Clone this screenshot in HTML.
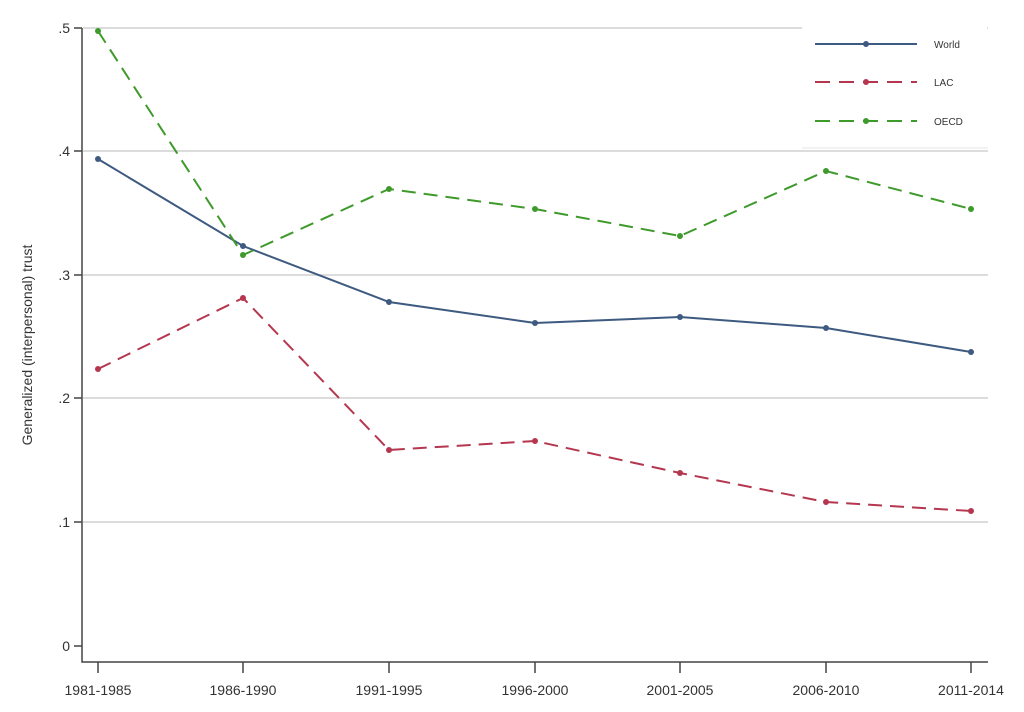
<!DOCTYPE html>
<html><head><style>body{margin:0;background:#fff}svg{display:block}text{font-family:"Liberation Sans",sans-serif;fill:#333}</style></head><body>
<svg width="1024" height="712" viewBox="0 0 1024 712">
<g stroke="#dcdcdc" stroke-width="2">
<line x1="83" y1="28" x2="988" y2="28"/><line x1="83" y1="151" x2="988" y2="151"/>
<line x1="83" y1="275" x2="988" y2="275"/><line x1="83" y1="398" x2="988" y2="398"/>
<line x1="83" y1="522" x2="988" y2="522"/>
</g>
<rect x="802" y="8" width="185" height="140" fill="#fff"/>
<line x1="802" y1="148" x2="988" y2="148" stroke="#e4e4e4" stroke-width="1"/>
<g stroke="#444" stroke-width="1.5" fill="none">
<polyline points="82,28 82,662 988,662"/>
<line x1="74" y1="28" x2="82" y2="28"/><line x1="74" y1="151" x2="82" y2="151"/><line x1="74" y1="275" x2="82" y2="275"/><line x1="74" y1="398" x2="82" y2="398"/><line x1="74" y1="522" x2="82" y2="522"/><line x1="74" y1="646" x2="82" y2="646"/>
<line x1="98" y1="662" x2="98" y2="673"/><line x1="243" y1="662" x2="243" y2="673"/><line x1="389" y1="662" x2="389" y2="673"/><line x1="535" y1="662" x2="535" y2="673"/><line x1="680" y1="662" x2="680" y2="673"/><line x1="826" y1="662" x2="826" y2="673"/><line x1="971" y1="662" x2="971" y2="673"/>
</g>
<g font-size="14" text-anchor="end">
<text x="70" y="33">.5</text><text x="70" y="156">.4</text><text x="70" y="280">.3</text><text x="70" y="403">.2</text><text x="70" y="527">.1</text><text x="70" y="651">0</text>
</g>
<g font-size="14" text-anchor="middle">
<text x="98" y="695">1981-1985</text><text x="243" y="695">1986-1990</text><text x="389" y="695">1991-1995</text><text x="535" y="695">1996-2000</text><text x="680" y="695">2001-2005</text><text x="826" y="695">2006-2010</text><text x="971" y="695">2011-2014</text>
</g>
<text transform="translate(32,345) rotate(-90)" font-size="14" text-anchor="middle">Generalized (interpersonal) trust</text>
<polyline fill="none" stroke="#3e5a80" stroke-width="2" points="98,159 243,246 389,302 535,323 680,317 826,328 971,352"/>
<polyline fill="none" stroke="#b5374f" stroke-width="2" stroke-dasharray="14,8" points="98,369 243,298 389,450 535,441 680,473 826,502 971,511"/>
<polyline fill="none" stroke="#3f9a2c" stroke-width="2" stroke-dasharray="14,8" points="98,31 243,255 389,189 535,209 680,236 826,171 971,209"/>
<g fill="#3e5a80"><circle cx="98" cy="159" r="3"/><circle cx="243" cy="246" r="3"/><circle cx="389" cy="302" r="3"/><circle cx="535" cy="323" r="3"/><circle cx="680" cy="317" r="3"/><circle cx="826" cy="328" r="3"/><circle cx="971" cy="352" r="3"/></g>
<g fill="#b5374f"><circle cx="98" cy="369" r="3"/><circle cx="243" cy="298" r="3"/><circle cx="389" cy="450" r="3"/><circle cx="535" cy="441" r="3"/><circle cx="680" cy="473" r="3"/><circle cx="826" cy="502" r="3"/><circle cx="971" cy="511" r="3"/></g>
<g fill="#3f9a2c"><circle cx="98" cy="31" r="3"/><circle cx="243" cy="255" r="3"/><circle cx="389" cy="189" r="3"/><circle cx="535" cy="209" r="3"/><circle cx="680" cy="236" r="3"/><circle cx="826" cy="171" r="3"/><circle cx="971" cy="209" r="3"/></g>
<line x1="815" y1="44" x2="917" y2="44" stroke="#3e5a80" stroke-width="2"/><circle cx="866" cy="44" r="3" fill="#3e5a80"/>
<line x1="815" y1="82" x2="917" y2="82" stroke="#b5374f" stroke-width="2" stroke-dasharray="15,9"/><circle cx="866" cy="82" r="3" fill="#b5374f"/>
<line x1="815" y1="121" x2="917" y2="121" stroke="#3f9a2c" stroke-width="2" stroke-dasharray="15,9"/><circle cx="866" cy="121" r="3" fill="#3f9a2c"/>
<g font-size="10"><text x="934" y="48">World</text><text x="934" y="86">LAC</text><text x="934" y="125">OECD</text></g>
</svg>
</body></html>
